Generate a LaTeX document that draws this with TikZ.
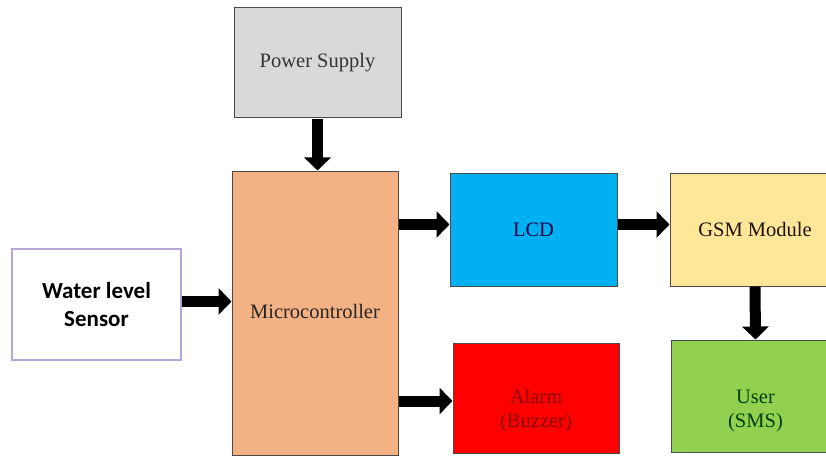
\documentclass[tikz,border=0pt]{standalone}
\usepackage{fontspec}
\setmainfont{Liberation Serif}
\newfontfamily\calib{Carlito}
\usepackage{xcolor}
\usepackage{tikz}
\usetikzlibrary{arrows.meta,positioning}
\definecolor{edgec}{HTML}{4A4A4A}
\definecolor{pwrc}{HTML}{D9D9D9}
\definecolor{mcuc}{HTML}{F4B183}
\definecolor{lcdc}{HTML}{00B0F0}
\definecolor{gsmc}{HTML}{FFE699}
\definecolor{almc}{HTML}{FF0000}
\definecolor{usrc}{HTML}{92D050}
\definecolor{senc}{HTML}{B4A7D6}
\tikzset{
  ar/.style={-{Triangle[length=13pt,width=26pt]},line width=11pt,black},
  box/.style={draw=edgec,line width=1pt,align=center,inner sep=4pt,
    font=\fontsize{20.5}{24}\selectfont},
  txt/.style={align=center,font=\fontsize{20.5}{24}\selectfont}
}

\begin{document}
\begin{tikzpicture}[x=1pt,y=-1pt]
\clip (0,0) rectangle (826,457);
\fill[white] (0,0) rectangle (826,457);
\node[box,fill=pwrc,text=black!80,minimum width=167pt,minimum height=110pt] (power) at (317.5,63) {\raisebox{-4pt}{Power Supply}};
\node[box,fill=mcuc,text=black!85,minimum width=166pt,minimum height=284pt] (mcu) at (315,313) {\raisebox{4pt}{Microcontroller}};
\node[draw=senc,line width=2.5pt,fill=white,minimum width=169pt,minimum height=111pt,align=center,
  font=\calib\bfseries\fontsize{23}{28}\selectfont] (sensor) at (96.5,304.5) {Water level\\Sensor};
\node[box,fill=lcdc,text=blue!30!black,minimum width=167pt,minimum height=113pt] (lcd) at (533.5,229.5) {\raisebox{-3pt}{LCD}};
\node[box,fill=gsmc,text=black!85!brown,minimum width=170pt,minimum height=113pt] (gsm) at (755,229.5) {\raisebox{-3pt}{GSM Module}};
\node[box,fill=almc,minimum width=166pt,minimum height=110pt] (alarm) at (536,398) {};
\node[txt,text=red!55!black] at ([yshift=-13pt]alarm.center) {Alarm\\(Buzzer)};
\node[box,fill=usrc,minimum width=169pt,minimum height=112pt] (user) at (755.5,396) {};
\node[txt,text=green!25!black] at ([yshift=-15pt]user.center) {User\\(SMS)};
% connections
\draw[ar] ([yshift=-1pt]power.south) -- (power.south |- mcu.north);
\draw[ar] ([yshift=3pt]sensor.east) -- ([yshift=3pt]sensor.east -| mcu.west);
\draw[ar] ([yshift=5pt]mcu.east |- lcd.west) -- ([yshift=5pt]lcd.west);
\draw[ar] ([yshift=-3pt]mcu.east |- alarm.west) -- ([yshift=-3pt]alarm.west);
\draw[ar] ([yshift=5pt]lcd.east) -- ([yshift=5pt]gsm.west);
\draw[ar] (gsm.south) -- (user.north);
\end{tikzpicture}
\end{document}
